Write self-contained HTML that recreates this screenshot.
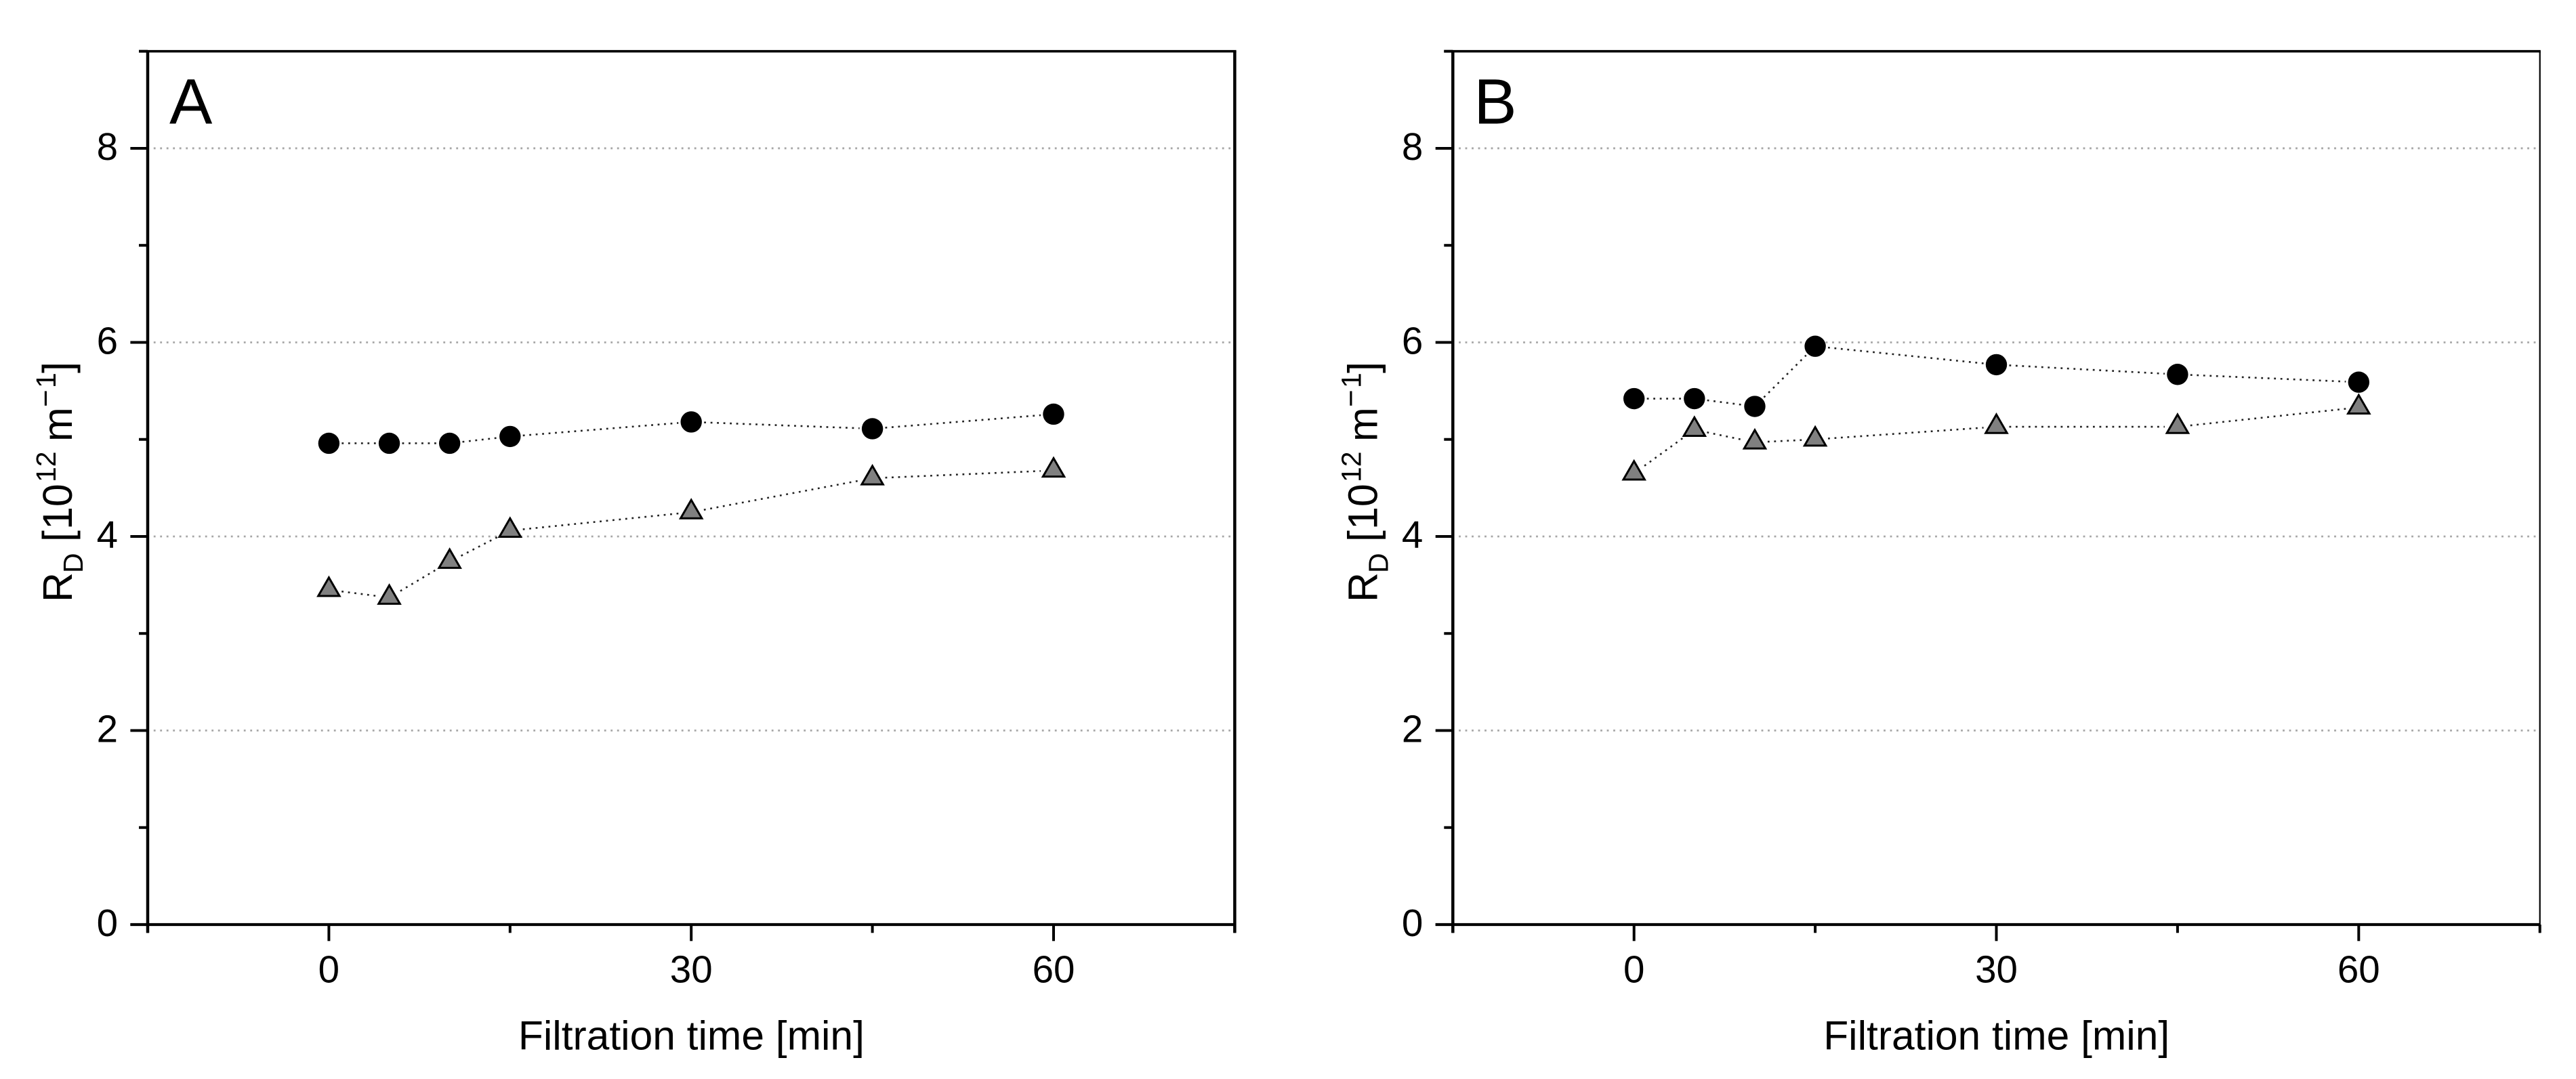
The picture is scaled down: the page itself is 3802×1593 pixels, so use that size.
<!DOCTYPE html>
<html lang="en">
<head>
<meta charset="utf-8">
<title>Filtration resistance, panels A and B</title>
<style>
html,body{margin:0;padding:0;background:#fff}
svg{display:block}
text{font-family:"Liberation Sans",Arial,sans-serif;fill:#000}
</style>
</head>
<body>
<svg id="chart" xmlns="http://www.w3.org/2000/svg" width="3802" height="1593" viewBox="0 0 3802 1593">
  <rect width="3802" height="1593" fill="#fff"/>

  <g id="panel-a">
    <text x="250" y="182.7" font-size="95">A</text>
    <text x="1020.4" y="1549.3" font-size="60.5" text-anchor="middle">Filtration time [min]</text>
    <g transform="translate(106,885) rotate(-90)">
      <text x="-4" y="0" font-size="61">R</text>
      <text x="39" y="16" font-size="41">D</text>
      <text x="85" y="0" font-size="61">[</text>
      <text x="103" y="0" font-size="61">10</text>
      <text x="173" y="-24" font-size="41">12</text>
      <text x="233" y="0" font-size="61">m</text>
      <text x="284" y="-24" font-size="44">−</text>
      <text x="312" y="-24" font-size="41">1</text>
      <text x="334" y="0" font-size="61">]</text>
    </g>
  </g>

  <g id="panel-b" transform="translate(1926.3,0)">
    <text x="249" y="182.7" font-size="95">B</text>
    <text x="1020.4" y="1549.3" font-size="60.5" text-anchor="middle">Filtration time [min]</text>
    <g transform="translate(106,885) rotate(-90)">
      <text x="-4" y="0" font-size="61">R</text>
      <text x="39" y="16" font-size="41">D</text>
      <text x="85" y="0" font-size="61">[</text>
      <text x="103" y="0" font-size="61">10</text>
      <text x="173" y="-24" font-size="41">12</text>
      <text x="233" y="0" font-size="61">m</text>
      <text x="284" y="-24" font-size="44">−</text>
      <text x="312" y="-24" font-size="41">1</text>
      <text x="334" y="0" font-size="61">]</text>
    </g>
  </g>
</svg>

<script>
// Data
const timeMinutes = [0, 5, 10, 15, 30, 45, 60];
const panelACircles = [4.96, 4.96, 4.96, 5.03, 5.18, 5.11, 5.26];
const panelATriangles = [3.45, 3.37, 3.74, 4.06, 4.25, 4.60, 4.68];
const panelBCircles = [5.42, 5.42, 5.34, 5.96, 5.77, 5.67, 5.59];
const panelBTriangles = [4.65, 5.10, 4.97, 5.00, 5.13, 5.13, 5.33];

const xMajorTicks = [0, 30, 60];
const xMinorTicks = [-15, 15, 45, 75];
const yMajorTicks = [0, 2, 4, 6, 8];
const yMinorTicks = [1, 3, 5, 7, 9];
const gridValues = [2, 4, 6, 8];
const xDomain = [-15, 75];
const yDomain = [0, 9];

// Axis functions (panel-local coordinates)
const plotLeft = 218, plotRight = 1822.4, plotTop = 75.7, plotBottom = 1365;
function xScale(t) {
  return plotLeft + (t - xDomain[0]) / (xDomain[1] - xDomain[0]) * (plotRight - plotLeft);
}
function yScale(v) {
  return plotBottom - (v - yDomain[0]) / (yDomain[1] - yDomain[0]) * (plotBottom - plotTop);
}

const NS = 'http://www.w3.org/2000/svg';
function make(parent, tag, attrs) {
  const el = document.createElementNS(NS, tag);
  for (const k in attrs) el.setAttribute(k, attrs[k]);
  parent.appendChild(el);
  return el;
}

function drawGrid(g) {
  gridValues.forEach(function (v) {
    const el = make(g, 'line', {x1: 226.8, x2: plotRight - 2, y1: yScale(v), y2: yScale(v),
      stroke: '#a6a6a6', 'stroke-width': 2.8, 'stroke-dasharray': '2.8 6.7'});
    
    
  });
}

function drawAxes(g, rightWidth) {
  const top = make(g, 'line', {x1: 205, x2: plotRight + rightWidth / 2, y1: plotTop, y2: plotTop, stroke: '#000', 'stroke-width': 3.6});
  
  

  const left = make(g, 'line', {x1: plotLeft, x2: plotLeft, y1: plotTop, y2: 1377.3, stroke: '#000', 'stroke-width': 4.5});
  
  

  const right = make(g, 'line', {x1: plotRight, x2: plotRight, y1: plotTop, y2: 1377.3, stroke: '#000', 'stroke-width': rightWidth});
  
  

  const bottom = make(g, 'line', {x1: 192.4, x2: plotRight, y1: plotBottom, y2: plotBottom, stroke: '#000', 'stroke-width': 4.2});
  
  

  yMajorTicks.forEach(function (v) {
    const t = make(g, 'line', {x1: 192.4, x2: plotLeft, y1: yScale(v), y2: yScale(v), stroke: '#000', 'stroke-width': 4});
    
    
    const lab = make(g, 'text', {x: 174, y: yScale(v) + 17, 'font-size': 56.5, 'text-anchor': 'end'});
    lab.textContent = String(v);
    
    
  });
  yMinorTicks.forEach(function (v) {
    const t = make(g, 'line', {x1: 205, x2: plotLeft, y1: yScale(v), y2: yScale(v), stroke: '#000', 'stroke-width': 4});
    
    
  });
  xMajorTicks.forEach(function (v) {
    const t = make(g, 'line', {x1: xScale(v), x2: xScale(v), y1: plotBottom, y2: 1389.3, stroke: '#000', 'stroke-width': 4});
    
    
    const lab = make(g, 'text', {x: xScale(v), y: 1450.5, 'font-size': 56.5, 'text-anchor': 'middle'});
    lab.textContent = String(v);
    
    
  });
  xMinorTicks.forEach(function (v) {
    const t = make(g, 'line', {x1: xScale(v), x2: xScale(v), y1: plotBottom, y2: 1377.3, stroke: '#000', 'stroke-width': 4});
    
    
  });
}

// Dotted connector, stopped short of each marker
function drawConnectors(g, values, seriesName) {
  const gap = 19;
  for (let i = 0; i < values.length - 1; i++) {
    const x1 = xScale(timeMinutes[i]), y1 = yScale(values[i]);
    const x2 = xScale(timeMinutes[i + 1]), y2 = yScale(values[i + 1]);
    const len = Math.hypot(x2 - x1, y2 - y1);
    const ux = (x2 - x1) / len, uy = (y2 - y1) / len;
    const seg = make(g, 'line', {x1: x1 + ux * gap, y1: y1 + uy * gap, x2: x2 - ux * gap, y2: y2 - uy * gap,
      stroke: '#222', 'stroke-width': 2.6, 'stroke-dasharray': '2.8 6.7'});
    
    
  }
}

function drawCircles(g, values, seriesName) {
  drawConnectors(g, values, seriesName);
  values.forEach(function (v, i) {
    const c = make(g, 'circle', {cx: xScale(timeMinutes[i]), cy: yScale(v), r: 15.7, fill: '#000'});
    
    
  });
}

function drawTriangles(g, values, seriesName) {
  drawConnectors(g, values, seriesName);
  values.forEach(function (v, i) {
    const cx = xScale(timeMinutes[i]), cy = yScale(v);
    const pts = cx + ',' + (cy - 18.1) + ' ' + (cx + 15.7) + ',' + (cy + 9.1) + ' ' + (cx - 15.7) + ',' + (cy + 9.1);
    const t = make(g, 'polygon', {points: pts, fill: '#808080', stroke: '#000', 'stroke-width': 3});
    
    
  });
}

const panelA = document.getElementById('panel-a');
const panelB = document.getElementById('panel-b');

drawGrid(panelA);
drawAxes(panelA, 4.5);
drawTriangles(panelA, panelATriangles, 'panel-a-triangle-series');
drawCircles(panelA, panelACircles, 'panel-a-circle-series');

drawGrid(panelB);
drawAxes(panelB, 2.2);
drawTriangles(panelB, panelBTriangles, 'panel-b-triangle-series');
drawCircles(panelB, panelBCircles, 'panel-b-circle-series');
</script>
</body>
</html>
